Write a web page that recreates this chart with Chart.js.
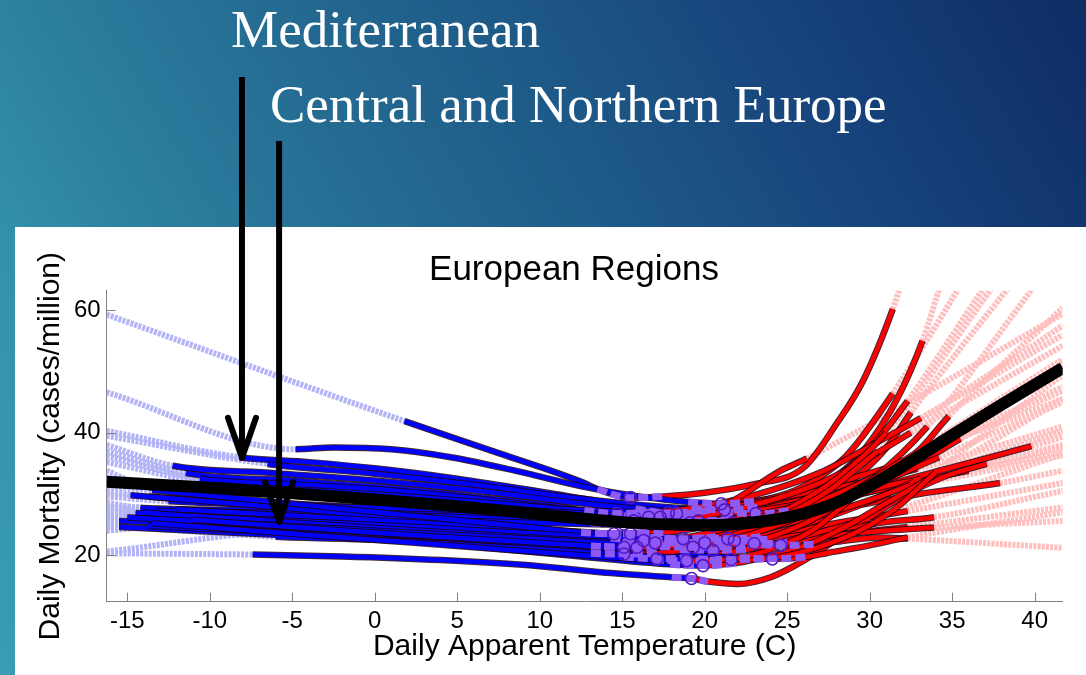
<!DOCTYPE html>
<html>
<head>
<meta charset="utf-8">
<script src="https://cdn.jsdelivr.net/npm/chart.js@4.4.1/dist/chart.umd.min.js"></script>
<style>
    html, body { margin: 0; padding: 0; width: 1086px; height: 675px; overflow: hidden; }
    body {
        position: relative;
        background: linear-gradient(60deg, #3a9cb5 0%, #3391ad 17%, #2c7f9f 28%, #246a91 45%, #1d5786 62%, #16417a 80%, #0f2c63 100%);
    }
    #panel { position: absolute; left: 15px; top: 227px; right: 0; bottom: 0; background: #fff; }
    #grafico { position: absolute; left: 0; top: 0; }
    .rotulo { position: absolute; font-family: 'Liberation Serif', 'Times New Roman', serif; font-size: 53px; line-height: 53px; color: #fff; white-space: nowrap; }
    #titulo { position: absolute; left: 374px; width: 400px; top: 250px; text-align: center; font-family: 'Liberation Sans', Arial, sans-serif; font-size: 35px; line-height: 35px; color: #000; white-space: nowrap; }
</style>
</head>
<body>
<div id="panel"></div>
<canvas id="grafico" width="1086" height="675"></canvas>
<div class="rotulo" style="left:231px; top:3px;">Mediterranean</div>
<div class="rotulo" style="left:270px; top:78px;">Central and Northern Europe</div>
<div id="titulo">European Regions</div>
<script>
// eixos
const xRange = [-16.25, 41.7];
const yRange = [12.4, 63.2];
const xTicks = [-15, -10, -5, 0, 5, 10, 15, 20, 25, 30, 35, 40];
const yTicks = [20, 40, 60];

// curva agregada (preta)
const pooledT = [-16.25, -10, -5, 0, 5, 10, 15, 18, 20, 22, 24, 26, 28, 30, 32, 35, 38, 41.7];
const pooledM = [32.0, 31.0, 30.1, 29.1, 28.0, 26.7, 25.4, 25.0, 24.9, 25.1, 25.7, 26.8, 28.6, 31.3, 34.5, 39.6, 44.6, 50.6];

// curvas por cidade: temperatura e mortalidade
const cityTemp = [
    [-16.25, 1.8, 7.6, 12.6, 13.5, 15.5, 17.5, 20, 23, 26, 28, 29.6, 31.4, 32.1],
    [-16.25, -4.8, -2.5, 1, 4.6, 8.5, 12.6, 16, 19, 21, 23, 25, 28, 29.6, 31.7, 33.2, 34.5],
    [-16.25, -8.2, -4, 0, 5, 10, 14, 15.8, 17.8, 19.8, 22, 25.5, 28.5, 31.4, 35.5],
    [-16.25, -6.5, 0, 6, 12, 17, 19.2, 21.2, 23.2, 25, 28, 30.5, 32.3, 37],
    [-16.25, -12.25, -6, 0, 6, 12, 17, 21.1, 23.1, 25.1, 26.5, 29, 31, 32.5, 38.5],
    [-16.25, -11.45, -5, 0, 6, 11, 12.7, 14.7, 16.7, 19, 23, 27, 30.5, 33.1, 41.7],
    [-16.25, -10.6, -5, 0, 6, 12, 15.3, 17.3, 19.3, 21, 25, 29, 32.7, 34.8, 41.7],
    [-16.25, -9.5, -4, 2, 8, 13, 16.3, 18.3, 20.3, 21.5, 24.6, 26.2, 41.7],
    [-16.25, -14, -8, -2, 4, 10, 14.6, 16.6, 18.6, 21, 25, 29, 32.9, 41.7],
    [-16.25, -15, -8, -2, 4, 10, 15, 17.6, 19.6, 21.6, 24, 28, 32, 36, 41.7],
    [-16.25, -13.7, -8, -2, 4, 10, 13.7, 15.7, 17.7, 20, 24, 28, 31, 33.1, 41.7],
    [-16.25, -12.5, -6, 0, 6, 12, 17.1, 19.1, 21.1, 23, 27, 31, 34.5, 39.8, 41.7],
    [-16.25, -14.2, -8, -2, 4, 10, 16, 19.7, 21.7, 23.7, 25, 29, 33, 37.9, 41.7],
    [-16.25, -13.3, -8, -2, 4, 10, 13.1, 15.1, 17.1, 19, 23, 27, 30, 32.5, 41.7],
    [-16.25, -9.9, -4, 2, 8, 14, 18.5, 20.5, 22.5, 24, 27, 30, 33, 35.5, 41.7],
    [-16.25, -9.7, -4, 2, 8, 12.5, 14.5, 16.5, 19, 23, 27, 30.5, 33.1, 41.7],
    [-16.25, -13.1, -8, -2, 4, 10, 13.5, 15.5, 17.5, 19, 23, 27, 30.5, 33.5, 41.7],
    [-16.25, -3.5, 2, 8, 14, 16.7, 18.7, 20.7, 23, 27, 30, 32.5, 34.2, 41.7],
    [-16.25, -3.3, 2, 8, 14, 19.4, 21.4, 23.4, 25, 28.5, 32.3, 41.7],
    [-16.25, -7.4, -2, 4, 10, 13.7, 18, 19.2, 20.2, 22, 24, 26, 28.8, 31.9, 34.5, 37.1, 41.7],
    [-16.25, -14.8, -8, -2, 4, 10, 14.3, 16.3, 18.3, 20, 24, 28, 31, 32.9, 41.7],
    [-16.25, -12, -6, 0, 6, 12, 17, 19.8, 21.8, 23.8, 25, 28, 31, 33.9, 41.7],
    [-16.25, -13.5, -8, -2, 4, 10, 15, 18, 20, 22, 24, 27, 30, 32.7, 41.7],
    [-16.25, -15.5, -8, 0, 8, 15, 21, 23, 25, 26.5, 29, 32.3, 41.7],
    [-16.25, -14.5, -8, -2, 4, 10, 16, 21, 22.6, 24.6, 26.6, 28, 30.5, 32.3, 41.7],
    [-16.25, -12.8, -6, 0, 6, 11, 13.1, 15.1, 17.1, 19, 23, 27, 30, 32.5, 41.7],
    [-16.25, -15.5, -8, 0, 8, 15, 18.5, 20.5, 22.5, 24, 27, 30.5, 33.9, 41.7],
    [-16.25, -11.8, -6, 0, 6, 12, 15.1, 17.1, 19.1, 21, 24, 27, 30, 41.7],
    [-16.25, -13.8, -6, 2, 10, 17, 22.1, 24.1, 26.1, 27.5, 30, 32.3, 41.7],
    [-16.25, -12.6, -6, 0, 6, 12, 17.9, 19.9, 21.9, 23.5, 26, 28.5, 31, 33.9, 41.7],
    [-16.25, -14, -8, -2, 4, 10, 15, 17, 19, 22, 25, 28, 31, 37.5],
    [-16.25, -15, -8, -2, 4, 10, 17.3, 19.3, 21.3, 24, 27, 30, 33.5, 40],
    [-16.25, -11, -5, 1, 7, 12, 13.9, 15.9, 17.9, 21, 24, 27.5, 30.5, 41.7],
    [-16.25, -13.5, -7, -1, 5, 11, 13.1, 15.1, 17.1, 20, 24, 28, 32, 41.7],
    [-16.25, -6, 0, 6, 12, 17, 19.6, 21.6, 23.6, 26, 29, 31.5, 34, 41.7],
    [-16.25, -10, -4, 2, 8, 13, 16.9, 18.9, 20.9, 23.5, 26.5, 29.5, 41.7]
];
const cityMort = [
    [59.3, 41.9, 36.6, 31.9, 30.8, 29.4, 29.6, 30.2, 31.6, 34.3, 41.5, 48.5, 60.2, 66],
    [46.6, 37.3, 37.6, 37.3, 36.0, 33.8, 31.2, 29.6, 28.7, 28.4, 28.8, 29.8, 33, 37, 45.7, 55, 66],
    [40.3, 36.0, 35.2, 34.2, 32.5, 30.4, 28.6, 27.6, 26.9, 27.2, 28.2, 30.6, 36.0, 46.4, 64],
    [39.5, 34.9, 33.3, 31.5, 29.4, 28.0, 27.6, 27.4, 27.8, 28.8, 32.8, 39.0, 45.2, 64],
    [38.0, 34.6, 33.4, 32.2, 30.6, 28.6, 27.4, 27.0, 26.8, 27.3, 28.6, 32.4, 37.5, 43.3, 64],
    [37.0, 33.4, 32.2, 31.2, 29.6, 28.0, 27.3, 26.8, 27.0, 27.6, 29.8, 33.5, 38.5, 42.4, 56],
    [36.2, 32.5, 31.6, 30.8, 29.3, 27.4, 26.6, 26.2, 26.5, 27.2, 29.4, 32.6, 36.5, 42.7, 60.4],
    [35.2, 31.5, 30.6, 29.6, 28.3, 27.3, 27.0, 26.8, 27.4, 28.6, 33.8, 35.8, 59.4],
    [33.8, 31.3, 30.2, 29.3, 28.3, 27.2, 26.5, 26.2, 26.6, 27.5, 29.6, 31.6, 34.1, 41.0],
    [32.6, 32.0, 30.6, 29.4, 28.1, 26.9, 26.0, 25.8, 25.6, 25.9, 26.8, 29.0, 31.6, 33.8, 36.8],
    [30.5, 29.6, 28.8, 28.0, 27.2, 26.4, 25.8, 25.6, 25.9, 26.5, 27.6, 29.5, 30.8, 31.7, 36.3],
    [29.6, 28.8, 28.2, 27.7, 27.0, 26.2, 25.5, 25.3, 25.6, 26.5, 29.0, 31.5, 34.0, 37.8, 39.3],
    [28.6, 27.7, 27.4, 27.0, 26.6, 26.1, 25.6, 25.4, 25.3, 25.6, 26.2, 28.0, 30.0, 31.8, 33.8],
    [27.8, 27.3, 27.0, 26.7, 26.3, 25.7, 25.3, 25.1, 25.4, 26.0, 28.2, 31.8, 36.0, 40.0, 54.2],
    [26.9, 26.5, 26.2, 25.8, 25.4, 25.0, 24.85, 24.8, 25.1, 25.8, 28.0, 31.0, 35.0, 39.0, 46.9],
    [26.2, 25.7, 25.3, 24.8, 24.2, 23.7, 23.5, 23.7, 24.3, 26.0, 28.5, 31.0, 32.5, 37.6],
    [24.6, 24.4, 24.2, 24.0, 23.8, 23.6, 23.55, 23.5, 23.7, 24.2, 26.0, 29.0, 33.0, 37.0, 45.5],
    [24.0, 26.9, 26.0, 24.8, 23.3, 22.9, 22.7, 23.0, 24.3, 27.5, 31.0, 34.0, 36.0, 45.0],
    [20.6, 24.3, 24.0, 23.6, 23.1, 22.8, 22.7, 23.0, 23.8, 25.5, 27.2, 31.8],
    [20.3, 20.1, 19.8, 19.2, 18.2, 17.2, 16.4, 16.2, 15.7, 15.3, 16.4, 19.1, 24.0, 29.4, 32.8, 34.9, 38.0],
    [30.1, 29.8, 28.3, 26.9, 25.5, 24.0, 22.8, 22.4, 22.7, 23.5, 26.0, 30.0, 33.8, 36.2, 47.5],
    [28.1, 27.5, 26.6, 25.7, 24.8, 23.9, 23.0, 22.6, 22.4, 22.6, 23.0, 24.2, 25.4, 26.2, 30.5],
    [31.4, 30.6, 29.2, 27.6, 26.0, 24.4, 23.0, 22.3, 22.0, 22.4, 23.5, 25.8, 28.8, 32.0, 40.3],
    [25.7, 25.6, 24.9, 24.0, 23.2, 22.4, 22.0, 21.9, 22.1, 22.7, 23.6, 24.6, 27.8],
    [27.2, 26.9, 26.0, 25.2, 24.4, 23.5, 22.6, 22.0, 21.8, 21.6, 21.8, 22.2, 22.9, 22.7, 21.2],
    [27.4, 26.5, 25.0, 23.7, 22.6, 21.8, 21.5, 21.3, 21.5, 22.2, 24.0, 26.5, 29.0, 31.5, 40.3],
    [24.7, 24.6, 23.6, 22.6, 21.8, 21.1, 20.9, 20.8, 20.95, 21.6, 23.0, 23.9, 24.5, 25.6],
    [26.4, 25.5, 24.4, 23.2, 21.9, 20.4, 19.7, 19.4, 19.6, 20.2, 21.7, 23.8, 26.0, 36.5],
    [25.3, 24.8, 23.8, 22.6, 21.3, 20.2, 19.6, 19.4, 19.7, 20.4, 21.6, 22.9, 27.0],
    [26.8, 26.0, 24.5, 23.0, 21.4, 19.9, 18.5, 18.3, 18.7, 19.6, 21.5, 24.6, 28.5, 33.0, 45.5],
    [28.0, 27.0, 25.9, 24.8, 23.8, 22.8, 22.1, 22.0, 22.2, 24.0, 27.5, 32.5, 40.0, 64],
    [26.5, 26.2, 25.2, 24.3, 23.4, 22.6, 21.5, 21.3, 21.5, 23.0, 26.5, 32.0, 41.0, 64],
    [27.0, 25.8, 24.6, 23.5, 22.5, 21.7, 21.4, 21.3, 21.4, 22.8, 25.5, 30.5, 37.0, 57.5],
    [25.9, 25.2, 24.0, 22.9, 21.8, 20.7, 20.3, 20.2, 20.3, 21.5, 24.5, 29.0, 35.5, 52.0],
    [24.9, 23.0, 22.5, 21.6, 20.6, 19.8, 19.4, 19.3, 19.4, 20.6, 23.5, 27.5, 33.5, 49.5],
    [25.7, 24.5, 23.3, 22.1, 20.9, 19.9, 19.2, 19.1, 19.2, 20.5, 24.0, 30.5, 51.0]
];
// limites: inicio do ajuste frio, faixa da temperatura de minima mortalidade, fim do ajuste quente
const coldStart = [1.8, -4.8, -8.2, -6.5, -12.25, -11.45, -10.6, -9.5, -14, -15, -13.7, -12.5, -14.2, -13.3, -9.9, -9.7, -13.1, -3.5, -3.3, -7.4, -14.8, -12, -13.5, -15.5, -14.5, -12.8, -15.5, -11.8, -13.8, -12.6, -14, -15, -11, -13.5, -6, -10];
const bandLo = [13.5, 19, 15.8, 19.2, 21.1, 12.7, 15.3, 16.3, 14.6, 17.6, 13.7, 17.1, 19.7, 13.1, 18.5, 12.5, 13.5, 16.7, 19.4, 18, 14.3, 19.8, 18, 21, 22.6, 13.1, 18.5, 15.1, 22.1, 17.9, 15, 17.3, 13.9, 13.1, 19.6, 16.9];
const mmt = [15.5, 21, 17.8, 21.2, 23.1, 14.7, 17.3, 18.3, 16.6, 19.6, 15.7, 19.1, 21.7, 15.1, 20.5, 14.5, 15.5, 18.7, 21.4, 19.2, 16.3, 21.8, 20, 23, 24.6, 15.1, 20.5, 17.1, 24.1, 19.9, 17, 19.3, 15.9, 15.1, 21.6, 18.9];
const bandHi = [17.5, 23, 19.8, 23.2, 25.1, 16.7, 19.3, 20.3, 18.6, 21.6, 17.7, 21.1, 23.7, 17.1, 22.5, 16.5, 17.5, 20.7, 23.4, 20.2, 18.3, 23.8, 22, 25, 26.6, 17.1, 22.5, 19.1, 26.1, 21.9, 19, 21.3, 17.9, 17.1, 23.6, 20.9];
const hotEnd = [31.4, 33.2, 31.4, 32.3, 32.5, 33.1, 34.8, 26.2, 32.9, 36, 33.1, 39.8, 37.9, 32.5, 35.5, 33.1, 33.5, 34.2, 32.3, 37.1, 32.9, 33.9, 32.7, 32.3, 32.3, 32.5, 33.9, 30, 32.3, 33.9, 31, 33.5, 30.5, 32, 34, 29.5];

// setas
const arrowTips = [[-8.05, 35.9], [-5.8, 25.4]];
const arrowTops = [77, 141];

const FONT = "'Liberation Sans', Arial, Helvetica, sans-serif";
const NONE = 'rgba(0,0,0,0)';
const LAVANDA = '#b3b3f7', ROSA = '#ffbfbf', AZUL = '#0000ff', VERMELHO = '#ff0000';
const ROXO = '#8d5af6', CIRCULO = '#5218c4', BORDA = 'rgba(30,0,20,0.85)';
const eps = 1e-6;

const datasets = [];
cityTemp.forEach((temps, i) => {
    const pts = () => temps.map((t, k) => ({ x: t, y: cityMort[i][k] }));
    const base = { pointRadius: 0, cubicInterpolationMode: 'monotone', clip: 0, fill: false, borderColor: NONE };
    const frio = c => c.p1.parsed.x <= coldStart[i] + eps;
    const extra = c => c.p0.parsed.x >= hotEnd[i] - eps;
    const azul = c => c.p0.parsed.x >= coldStart[i] - eps && c.p1.parsed.x <= mmt[i] + eps;
    const quente = c => c.p0.parsed.x >= mmt[i] - eps && c.p1.parsed.x <= hotEnd[i] + eps;
    const faixa = c => c.p0.parsed.x >= bandLo[i] - eps && c.p1.parsed.x <= bandHi[i] + eps;

    datasets.push({ ...base, data: pts(), order: 1000, borderWidth: 6,
        segment: {
            borderColor: c => frio(c) ? LAVANDA : (extra(c) ? ROSA : NONE),
            borderDash: c => (frio(c) || extra(c)) ? [3, 1.2] : []
        } });
    datasets.push({ ...base, data: pts(), order: 500 - 2 * i, borderWidth: 6.5,
        segment: { borderColor: c => (azul(c) || quente(c)) ? BORDA : NONE } });
    datasets.push({ ...base, data: pts(), order: 499 - 2 * i, borderWidth: 4.5,
        segment: { borderColor: c => azul(c) ? AZUL : (quente(c) ? VERMELHO : NONE) } });
    datasets.push({ ...base, data: pts(), order: 10, borderWidth: 7,
        segment: {
            borderColor: c => faixa(c) ? ROXO : NONE,
            borderDash: c => faixa(c) ? [10, 4] : []
        } });
});

// circulos da temperatura de minima mortalidade
datasets.push({
    data: mmt.map((t, i) => ({ x: t, y: cityMort[i][cityTemp[i].indexOf(t)] })),
    showLine: false, pointRadius: 6, pointBorderWidth: 1.6,
    pointBorderColor: CIRCULO, pointBackgroundColor: NONE, order: 5, clip: 0
});

// curva agregada
datasets.push({
    data: pooledT.map((t, k) => ({ x: t, y: pooledM[k] })),
    borderColor: '#000', borderWidth: 12, pointRadius: 0,
    cubicInterpolationMode: 'monotone', order: 0, clip: 0, fill: false
});

const marcas = {
    id: 'marcas',
    afterDatasetsDraw(chart) {
        const { ctx, chartArea: a, scales: { x, y } } = chart;
        ctx.save();
        ctx.strokeStyle = '#808080';
        ctx.lineWidth = 1;
        ctx.beginPath();
        xTicks.forEach(v => {
            const px = Math.round(x.getPixelForValue(v)) + 0.5;
            ctx.moveTo(px, a.bottom);
            ctx.lineTo(px, a.bottom - 9);
        });
        yTicks.forEach(v => {
            const py = Math.round(y.getPixelForValue(v)) + 0.5;
            ctx.moveTo(a.left, py);
            ctx.lineTo(a.left + 9, py);
        });
        ctx.stroke();

        ctx.strokeStyle = '#000';
        arrowTips.forEach(([t, m], k) => {
            const px = x.getPixelForValue(t), py = y.getPixelForValue(m);
            ctx.lineWidth = 6;
            ctx.lineCap = 'butt';
            ctx.beginPath();
            ctx.moveTo(px, arrowTops[k]);
            ctx.lineTo(px, py - 3);
            ctx.stroke();
            ctx.lineCap = 'round';
            ctx.lineJoin = 'round';
            ctx.beginPath();
            ctx.moveTo(px - 14, py - 40);
            ctx.lineTo(px, py);
            ctx.lineTo(px + 14, py - 40);
            ctx.stroke();
        });
        ctx.restore();
    }
};

new Chart(document.getElementById('grafico').getContext('2d'), {
    type: 'line',
    data: { datasets },
    options: {
        responsive: false,
        animation: false,
        devicePixelRatio: 1,
        layout: { padding: { top: 290.7, left: 0, right: 23.3, bottom: 0 } },
        plugins: { legend: { display: false }, tooltip: { enabled: false }, title: { display: false } },
        scales: {
            x: {
                type: 'linear', min: xRange[0], max: xRange[1],
                afterBuildTicks: s => { s.ticks = xTicks.map(v => ({ value: v })); },
                afterFit: s => { s.height = 73.3; },
                grid: { display: false, drawTicks: false },
                border: { display: true, color: '#808080', width: 1 },
                ticks: { color: '#000', font: { family: FONT, size: 24 }, padding: 5, maxRotation: 0, autoSkip: false, callback: v => String(v) },
                title: { display: true, text: 'Daily Apparent Temperature (C)', color: '#000', font: { family: FONT, size: 30 }, padding: { top: 0, bottom: 10 } }
            },
            y: {
                type: 'linear', min: yRange[0], max: yRange[1],
                afterBuildTicks: s => { s.ticks = yTicks.map(v => ({ value: v })); },
                afterFit: s => { s.width = 106.7; },
                grid: { display: false, drawTicks: false },
                border: { display: true, color: '#808080', width: 1 },
                ticks: { color: '#000', font: { family: FONT, size: 24 }, padding: 6, autoSkip: false, callback: v => String(v) },
                title: { display: true, text: 'Daily Mortality (cases/million)', color: '#000', font: { family: FONT, size: 30 }, padding: { top: 33, bottom: 0 } }
            }
        }
    },
    plugins: [marcas]
});
</script>
</body>
</html>
